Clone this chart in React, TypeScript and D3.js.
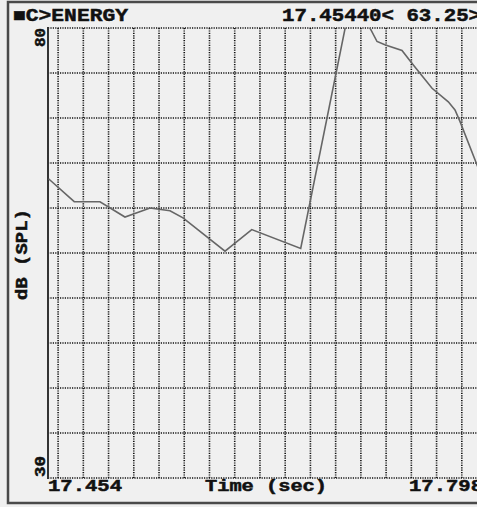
import { useEffect, useRef } from 'react';
import * as d3 from 'd3';

// energy-time curve
const times = [
	17.4544, 17.4748, 17.4952, 17.515, 17.5349, 17.5507, 17.561, 17.5943,
	17.6155, 17.6543, 17.695, 17.7148, 17.7215, 17.7346, 17.7423, 17.7584,
	17.7713, 17.7766, 17.7806, 17.794, 17.798,
];
const levels = [
	63.25, 60.7, 60.7, 59.0, 60.0, 59.7, 58.9, 55.2, 57.6, 55.5, 83.8, 78.5,
	78.1, 77.5, 76.1, 73.3, 71.8, 70.9, 69.6, 64.8, 63.5,
];

const timeDomain = [17.454, 17.798];
const dbDomain = [30, 80];
const timeLabels = ['17.454', '17.798'];
const dbLabels = ['30', '80'];
const title = '■C>ENERGY';
const cursorText = '17.45440< 63.25>';
const xTitle = 'Time (sec)';
const yTitle = 'dB (SPL)';

const W = 477;
const H = 507;
const FONT = "'Liberation Mono', 'DejaVu Sans Mono', monospace";

const App = () => {
	const svgRef = useRef<SVGSVGElement>(null);

	useEffect(() => {
		if (!svgRef.current) return;
		const svg = d3.select(svgRef.current);
		svg.selectAll('*').remove();

		const left = 48;
		const right = 482;
		const top = 28;
		const bottom = 478;

		const x = d3.scaleLinear().domain(timeDomain).range([left, right]);
		const y = d3.scaleLinear().domain(dbDomain).range([bottom, top]);

		svg.append('rect')
			.attr('width', W)
			.attr('height', H)
			.attr('fill', '#f0f0f0');

		// window frame
		svg.append('rect')
			.attr('x', 8)
			.attr('y', 2)
			.attr('width', W + 10)
			.attr('height', 501)
			.attr('fill', 'none')
			.attr('stroke', '#4a4a4a')
			.attr('stroke-width', 2.5);

		svg.append('defs')
			.append('clipPath')
			.attr('id', 'plot-clip')
			.append('rect')
			.attr('x', left)
			.attr('y', top)
			.attr('width', right - left)
			.attr('height', bottom - top);

		const grid = svg.append('g');
		const hTicks = d3.range(dbDomain[0], dbDomain[1] + 0.1, 5);
		grid.selectAll('line.h')
			.data(hTicks)
			.join('line')
			.attr('x1', left)
			.attr('x2', right)
			.attr('y1', (d) => y(d))
			.attr('y2', (d) => y(d))
			.attr('stroke', '#111')
			.attr('stroke-width', 1.6)
			.attr('stroke-dasharray', '1.2,1.2');

		const vTicks = d3.range(17.462, timeDomain[1], 0.02);
		grid.selectAll('line.v')
			.data(vTicks)
			.join('line')
			.attr('x1', (d) => x(d))
			.attr('x2', (d) => x(d))
			.attr('y1', top)
			.attr('y2', bottom)
			.attr('stroke', '#111')
			.attr('stroke-width', 1.6)
			.attr('stroke-dasharray', '1.2,1.2');

		svg.append('line')
			.attr('x1', left)
			.attr('x2', left)
			.attr('y1', top - 1)
			.attr('y2', bottom + 1)
			.attr('stroke', '#333')
			.attr('stroke-width', 2);

		const line = d3
			.line<number>()
			.x((_, i) => x(times[i]))
			.y((d) => y(d));

		svg.append('path')
			.datum(levels)
			.attr('clip-path', 'url(#plot-clip)')
			.attr('d', line)
			.attr('fill', 'none')
			.attr('stroke', '#666')
			.attr('stroke-width', 1.6);

		const txt = (
			s: string,
			tx: number,
			ty: number,
			len: number,
			size: number,
			anchor = 'start',
			rotate = false
		) => {
			const t = svg.append('text')
				.text(s)
				.attr('font-family', FONT)
				.attr('font-weight', 'bold')
				.attr('font-size', size)
				.attr('fill', '#111')
				.attr('stroke', '#111')
				.attr('stroke-width', 0.5)
				.attr('text-anchor', anchor)
				.attr('textLength', len)
				.attr('lengthAdjust', 'spacingAndGlyphs');
			if (rotate) t.attr('transform', `translate(${tx},${ty}) rotate(-90)`);
			else t.attr('x', tx).attr('y', ty);
		};

		txt(title, 13, 21, 115, 18);
		txt(cursorText, 282, 21, 199, 18);
		txt(timeLabels[0], x(timeDomain[0]), 491, 74, 16);
		txt(timeLabels[1], x(timeDomain[1]) + 1, 491, 74, 16, 'end');
		txt(xTitle, (left + right) / 2 + 1, 491, 122, 16, 'middle');
		txt(dbLabels[1], 45, y(dbDomain[1]), 19, 15, 'end', true);
		txt(dbLabels[0], 45, y(dbDomain[0]) - 1, 21, 15, 'start', true);
		txt(yTitle, 27, 254.5, 91, 16, 'middle', true);
	}, []);

	return (
		<svg
			ref={svgRef}
			width={W}
			height={H}
			style={{ position: 'absolute', left: 0, top: 0 }}
		></svg>
	);
};

export default App;
